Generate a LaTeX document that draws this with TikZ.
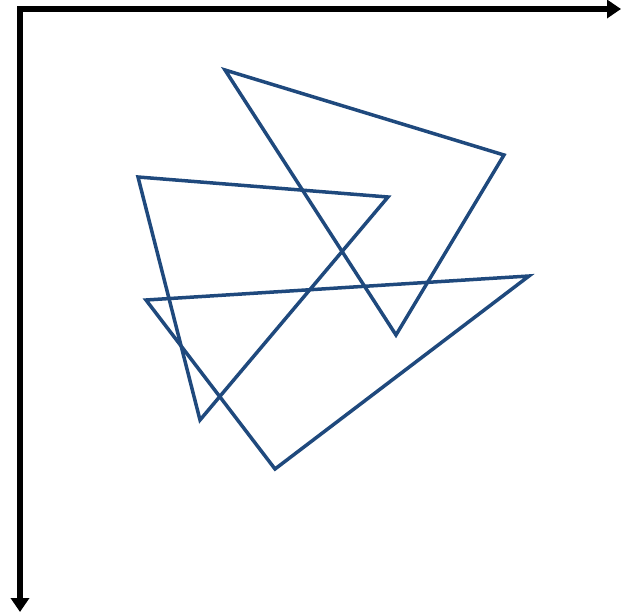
\documentclass[tikz,border=0pt]{standalone}
\usepackage{xcolor}
\usetikzlibrary{arrows.meta}
\definecolor{polyblue}{RGB}{31,73,125}

\begin{document}
\begin{tikzpicture}[x=1pt,y=-1pt]
        \tikzset{axis/.style={-{Triangle[length=14pt, width=18pt]}, line width=5.5pt},
                 tri/.style={polyblue, line width=3.5pt, line join=miter}}
        \useasboundingbox (0,0) rectangle (621,613);
        % axes
        \coordinate (o) at (20,9);
        \coordinate (xend) at (621,9);
        \coordinate (yend) at (20,612);
        \draw[axis] ([xshift=-2.75pt]o) -- (xend);
        \draw[axis] (o) -- (yend);
        % first triangle
        \coordinate (a1) at (225,70);
        \coordinate (a2) at (504,155);
        \coordinate (a3) at (396,335);
        \draw[tri] (a1) -- (a2) -- (a3) -- cycle;
        % second triangle
        \coordinate (b1) at (138,177);
        \coordinate (b2) at (388,197);
        \coordinate (b3) at (200,420);
        \draw[tri] (b1) -- (b2) -- (b3) -- cycle;
        % third triangle
        \coordinate (c1) at (146,300);
        \coordinate (c2) at (529,276);
        \coordinate (c3) at (275,469);
        \draw[tri] (c1) -- (c2) -- (c3) -- cycle;
\end{tikzpicture}
\end{document}
